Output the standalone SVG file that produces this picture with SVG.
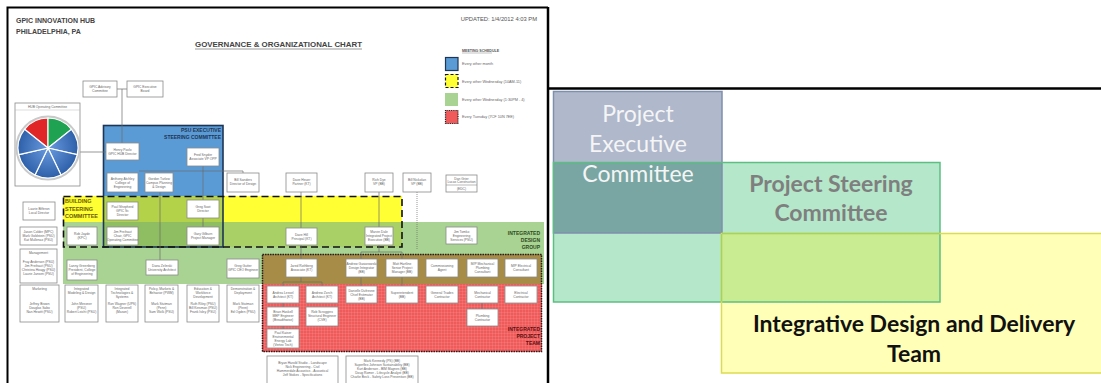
<svg xmlns="http://www.w3.org/2000/svg" width="1101" height="383" viewBox="0 0 1101 383">
  <defs>
    <style>
      .bx{fill:#fff;stroke:#8a8a8a;stroke-width:0.8}
      .t{font-family:"Liberation Sans",Arial,sans-serif;font-size:3.3px;fill:#666;text-anchor:middle}
      .hd{font-family:"Liberation Sans",Arial,sans-serif;font-weight:bold}
      .lg{font-family:"Liberation Sans",Arial,sans-serif;font-size:3.8px;fill:#666}
      .cn{stroke:#6a6a6a;stroke-width:0.7;fill:none}
      .big{font-family:Lato,"Open Sans",sans-serif;font-size:23px;text-anchor:middle}
    </style>
    <radialGradient id="pieBlue" cx="48" cy="148" r="31" gradientUnits="userSpaceOnUse">
      <stop offset="0" stop-color="#6a9be0"/>
      <stop offset="1" stop-color="#2c5ea8"/>
    </radialGradient>
    <pattern id="grid" width="3" height="3" patternUnits="userSpaceOnUse">
      <path d="M0,0.5H3M0.5,0V3" stroke="#ffffff" stroke-opacity="0.18" stroke-width="0.5"/>
    </pattern>
  </defs>

  <rect width="1101" height="383" fill="#fff"/>

  <!-- left sheet: governance chart -->
  <g id="sheet-frame">
    <path d="M7.5,383V7.5H548" fill="none" stroke="#000" stroke-width="2"/>
  </g>

  <g id="header">
    <text class="hd" x="16" y="22.5" font-size="7" fill="#444">GPIC INNOVATION HUB</text>
    <text class="hd" x="16" y="34" font-size="7" fill="#444">PHILADELPHIA, PA</text>
    <text x="537" y="20.5" font-family="Liberation Sans,Arial,sans-serif" font-size="5.8" fill="#555" text-anchor="end">UPDATED:  1/4/2012 4:03 PM</text>
    <text class="hd" x="195" y="47" font-size="6.6" fill="#444" textLength="167" lengthAdjust="spacingAndGlyphs">GOVERNANCE &amp; ORGANIZATIONAL CHART</text>
    <line x1="195" y1="49" x2="362" y2="49" stroke="#555" stroke-width="0.6"/>
  </g>

  <g id="legend">
    <text class="hd" x="462" y="52" font-size="3.6" fill="#555">MEETING SCHEDULE</text>
    <line x1="462" y1="53" x2="492" y2="53" stroke="#666" stroke-width="0.4"/>
    <rect x="445.5" y="57.5" width="12.5" height="13" fill="#5b9bd5" stroke="#1d3556" stroke-width="1.2"/>
    <text class="lg" x="462" y="65">Every other month</text>
    <rect x="445.5" y="74.5" width="12.5" height="13" fill="#ffff33" stroke="#111" stroke-width="1.2" stroke-dasharray="3,2"/>
    <text class="lg" x="462" y="82.5">Every other Wednesday (10AM-11)</text>
    <rect x="445" y="93" width="13" height="13" fill="#a9d392"/>
    <text class="lg" x="462" y="100.5">Every other Wednesday (1:30PM - 4)</text>
    <rect x="445.5" y="110.5" width="12.5" height="13" fill="#f15a5a" stroke="#222" stroke-width="1.2" stroke-dasharray="1,0.8"/>
    <text class="lg" x="462" y="118">Every Tuesday (7CF 10N 7EE)</text>
  </g>

  <!-- committee bands -->
  <g id="psu-executive-steering-committee">
    <rect x="103" y="125" width="120" height="122" fill="#5b9bd5"/>
  </g>
  <g id="building-steering-committee">
    <rect x="63" y="196" width="339" height="26" fill="#ffff33"/>
    <rect x="103" y="196" width="120" height="26" fill="#b3d24a"/>
  </g>
  <g id="integrated-design-group">
    <rect x="63" y="222" width="481" height="62" fill="#a9d392"/>
    <rect x="223" y="222" width="179" height="25" fill="#a8d066"/>
    <rect x="103" y="222" width="120" height="25" fill="#8fbd62"/>
  </g>
  <g id="integrated-project-team">
    <rect x="262" y="254" width="280" height="30" fill="#a68c46"/>
    <rect x="262" y="284" width="280" height="68" fill="#f15a5a"/>
    <rect x="262" y="284" width="280" height="68" fill="url(#grid)"/>
    <rect x="262.5" y="254.5" width="279" height="97" fill="none" stroke="#222" stroke-width="1.5" stroke-dasharray="1.5,1"/>
  </g>
  <g id="band-borders">
    <rect x="103.5" y="125.5" width="119.5" height="121.5" fill="none" stroke="#1d3556" stroke-width="1.6"/>
    <rect x="63.5" y="196.5" width="338.5" height="50.5" fill="none" stroke="#111" stroke-width="1.6" stroke-dasharray="7,4"/>
  </g>
  <g id="band-titles">
    <text class="hd" x="221" y="131.5" font-size="5" fill="#1d3556" text-anchor="end">PSU EXECUTIVE</text>
    <text class="hd" x="221" y="138.5" font-size="5" fill="#1d3556" text-anchor="end">STEERING COMMITTEE</text>
    <text class="hd" x="65" y="203" font-size="5.5" fill="#6b5a00">BUILDING</text>
    <text class="hd" x="65" y="210.5" font-size="5.5" fill="#6b5a00">STEERING</text>
    <text class="hd" x="65" y="218" font-size="5.5" fill="#6b5a00">COMMITTEE</text>
    <text class="hd" x="540" y="235" font-size="5" fill="#2f4a22" text-anchor="end">INTEGRATED</text>
    <text class="hd" x="540" y="242" font-size="5" fill="#2f4a22" text-anchor="end">DESIGN</text>
    <text class="hd" x="540" y="249" font-size="5" fill="#2f4a22" text-anchor="end">GROUP</text>
    <text class="hd" x="540" y="331" font-size="5" fill="#5a1010" text-anchor="end">INTEGRATED</text>
    <text class="hd" x="540" y="338" font-size="5" fill="#5a1010" text-anchor="end">PROJECT</text>
    <text class="hd" x="540" y="345" font-size="5" fill="#5a1010" text-anchor="end">TEAM</text>
  </g>

  <!-- connectors -->
  <g id="connectors">
    <path class="cn" d="M117,89H127M122,89V143"/>
    <path class="cn" d="M80,152H106"/>
    <path class="cn" d="M139,171H243V173"/>
    <path class="cn" d="M203,166V200M203,218V227"/>
    <path class="cn" d="M160,192V260"/>
    <path class="cn" d="M301,192V228M301,245V259M301,277V282M283,282H322M283,282V286M322,282V286"/>
    <path class="cn" d="M283,303V307M283,326V329"/>
    <path class="cn" d="M379,192V227M379,245V252H361V259M379,252H402V259"/>
    <path class="cn" d="M361,277V286M402,277V286M482,303V309"/>
    <path class="cn" d="M417,192V250" stroke-dasharray="1,1"/>
  </g>

  <!-- top boards -->
  <g id="gpic-advisory-committee"><rect class="bx" x="83" y="81" width="34" height="16"/><text class="t" x="100" y="88">GPIC Advisory</text><text class="t" x="100" y="92">Committee</text></g>
  <g id="gpic-executive-board"><rect class="bx" x="127" y="81" width="36" height="16"/><text class="t" x="145" y="88">GPIC Executive</text><text class="t" x="145" y="92">Board</text></g>

  <g id="hub-operating-committee">
    <rect class="bx" x="15" y="103" width="65" height="83"/>
    <line x1="15" y1="110" x2="80" y2="110" stroke="#bbb" stroke-width="0.5"/>
    <text class="t" x="47.5" y="108.2">HUB Operating Committee</text>
    <circle cx="48" cy="148" r="31.3" fill="#fff" stroke="#c9c9c9" stroke-width="2.4"/>
    <g stroke="#fff" stroke-width="1.2">
      <path d="M48,148L24.55,129.28A30,30 0 0 1 48,118Z" fill="#e02626"/>
      <path d="M48,148L48,118A30,30 0 0 1 71.45,129.28Z" fill="#1fa352"/>
      <path d="M48,148L71.45,129.28A30,30 0 0 1 77.24,154.7Z" fill="url(#pieBlue)"/>
      <path d="M48,148L77.24,154.7A30,30 0 0 1 61.01,175.03Z" fill="url(#pieBlue)"/>
      <path d="M48,148L61.01,175.03A30,30 0 0 1 34.99,175.03Z" fill="url(#pieBlue)"/>
      <path d="M48,148L34.99,175.03A30,30 0 0 1 18.76,154.7Z" fill="url(#pieBlue)"/>
      <path d="M48,148L18.76,154.7A30,30 0 0 1 24.55,129.28Z" fill="url(#pieBlue)"/>
    </g>
  </g>

  <!-- executive steering members -->
  <g id="henry-pavlo"><rect class="bx" x="106" y="143" width="33" height="17"/><text class="t" x="122.5" y="150.5">Henry Pavlo</text><text class="t" x="122.5" y="154.5">GPIC HUB Director</text></g>
  <g id="fred-snyder"><rect class="bx" x="187" y="148" width="32" height="18"/><text class="t" x="203" y="156">Fred Snyder</text><text class="t" x="203" y="160">Associate VP OPP</text></g>
  <g id="anthony-atchley"><rect class="bx" x="107" y="173" width="31" height="19"/><text class="t" x="122.5" y="179.5">Anthony Atchley</text><text class="t" x="122.5" y="183.5">College of</text><text class="t" x="122.5" y="187.5">Engineering</text></g>
  <g id="gordon-turlow"><rect class="bx" x="145" y="173" width="28" height="19"/><text class="t" x="159" y="179.5">Gordon Turlow</text><text class="t" x="159" y="183.5">Campus Planning</text><text class="t" x="159" y="187.5">&amp; Design</text></g>
  <g id="bill-sanders"><rect class="bx" x="227" y="173" width="32" height="19"/><text class="t" x="243" y="181">Bill Sanders</text><text class="t" x="243" y="185">Director of Design</text></g>
  <g id="dave-heuer"><rect class="bx" x="286" y="173" width="31" height="19"/><text class="t" x="301.5" y="181">Dave Heuer</text><text class="t" x="301.5" y="185">Partner (KT)</text></g>
  <g id="rich-dye"><rect class="bx" x="365" y="173" width="28" height="19"/><text class="t" x="379" y="181">Rich Dye</text><text class="t" x="379" y="185">VP (BB)</text></g>
  <g id="bill-nickolan"><rect class="bx" x="403" y="173" width="28" height="19"/><text class="t" x="417" y="181">Bill Nickolan</text><text class="t" x="417" y="185">VP (BB)</text></g>
  <g id="dan-grier"><rect class="bx" x="446" y="175" width="31" height="17"/><line x1="446" y1="185" x2="477" y2="185" stroke="#8a8a8a" stroke-width="0.6"/><text class="t" x="461.5" y="179.5">Dan Grier</text><text class="t" x="461.5" y="183.3">Lucas Construction</text><text class="t" x="461.5" y="189.5">(EDC)</text></g>

  <!-- building steering members -->
  <g id="laurie-bifferon"><rect class="bx" x="23" y="202" width="32" height="18"/><text class="t" x="39" y="210">Laurie Bifferon</text><text class="t" x="39" y="214">Local Director</text></g>
  <g id="paul-shepherd"><rect class="bx" x="107" y="202" width="31" height="18"/><text class="t" x="122.5" y="208">Paul Shepherd</text><text class="t" x="122.5" y="212">GPIC Sr.</text><text class="t" x="122.5" y="216">Director</text></g>
  <g id="greg-soot"><rect class="bx" x="187" y="200" width="32" height="18"/><text class="t" x="203" y="208">Greg Soot</text><text class="t" x="203" y="212">Director</text></g>

  <!-- design group members -->
  <g id="jason-colder"><rect class="bx" x="20" y="227" width="37" height="18"/><text class="t" x="38.5" y="232.5">Jason Colder (MPC)</text><text class="t" x="38.5" y="236.5">Mark Goldstein (PSU)</text><text class="t" x="38.5" y="240.5">Kat Mullenax (PSU)</text></g>
  <g id="rob-jayde"><rect class="bx" x="67" y="227" width="30" height="18"/><text class="t" x="82" y="235">Rob Jayde</text><text class="t" x="82" y="239">(KPC)</text></g>
  <g id="jim-freihaut"><rect class="bx" x="107" y="227" width="31" height="18"/><text class="t" x="122.5" y="233">Jim Freihaut</text><text class="t" x="122.5" y="237">Chair, GPIC</text><text class="t" x="122.5" y="241">Operating Committee</text></g>
  <g id="gary-gilburn"><rect class="bx" x="187" y="227" width="32" height="18"/><text class="t" x="203" y="235">Gary Gilburn</text><text class="t" x="203" y="239">Project Manager</text></g>
  <g id="dave-hill"><rect class="bx" x="286" y="228" width="31" height="17"/><text class="t" x="301.5" y="235.5">Dave Hill</text><text class="t" x="301.5" y="239.5">Principal (KT)</text></g>
  <g id="marvin-dale"><rect class="bx" x="365" y="227" width="28" height="18"/><text class="t" x="379" y="233">Marvin Dale</text><text class="t" x="379" y="237">Integrated Project</text><text class="t" x="379" y="241">Executive (BB)</text></g>
  <g id="jim-tomko"><rect class="bx" x="446" y="227" width="31" height="17"/><text class="t" x="461.5" y="232.5">Jim Tomko</text><text class="t" x="461.5" y="236.5">Engineering</text><text class="t" x="461.5" y="240.5">Services (PSU)</text></g>
  <g id="management"><rect class="bx" x="20" y="249" width="37" height="34"/><text class="t" x="38.5" y="254">Management</text><text class="t" x="38.5" y="263">Fray Anderson (PSU)</text><text class="t" x="38.5" y="267">Jim Freihaut (PSU)</text><text class="t" x="38.5" y="271">Christina Hoagy (PSU)</text><text class="t" x="38.5" y="275">Laurie Jansen (PSU)</text></g>
  <g id="lanny-greenberg"><rect class="bx" x="67" y="260" width="30" height="20"/><text class="t" x="82" y="266.5">Lanny Greenberg</text><text class="t" x="82" y="270.5">President, College</text><text class="t" x="82" y="274.5">of Engineering</text></g>
  <g id="dana-zelinski"><rect class="bx" x="146" y="260" width="32" height="15"/><text class="t" x="162" y="266.5">Dana Zelinski</text><text class="t" x="162" y="270.5">University Architect</text></g>
  <g id="greg-gutter"><rect class="bx" x="227" y="259" width="32" height="19"/><text class="t" x="243" y="267">Greg Gutter</text><text class="t" x="243" y="271">GPIC CEO Engineer</text></g>

  <!-- working groups -->
  <g id="marketing"><rect class="bx" x="20" y="285" width="39" height="37"/><text class="t" x="39.5" y="290">Marketing</text><text class="t" x="39.5" y="305">Jeffrey Brown</text><text class="t" x="39.5" y="309">Douglas Sabo</text><text class="t" x="39.5" y="313">Nan Hewitt (PSU)</text></g>
  <g id="integrated-modeling"><rect class="bx" x="65" y="285" width="33" height="37"/><text class="t" x="81.5" y="290">Integrated</text><text class="t" x="81.5" y="294">Modeling &amp; Design</text><text class="t" x="81.5" y="305">John Messner</text><text class="t" x="81.5" y="309">(PSU)</text><text class="t" x="81.5" y="313">Robert Leicht (PSU)</text></g>
  <g id="integrated-technologies"><rect class="bx" x="106" y="285" width="32" height="37"/><text class="t" x="122" y="290">Integrated</text><text class="t" x="122" y="294">Technologies &amp;</text><text class="t" x="122" y="298">Systems</text><text class="t" x="122" y="305">Ron Wagner (UPS)</text><text class="t" x="122" y="309">Ron Deverell</text><text class="t" x="122" y="313">(Mason)</text></g>
  <g id="policy-markets"><rect class="bx" x="145" y="285" width="33" height="37"/><text class="t" x="161.5" y="290">Policy, Markets &amp;</text><text class="t" x="161.5" y="294">Behavior (PWM)</text><text class="t" x="161.5" y="305">Mark Stutman</text><text class="t" x="161.5" y="309">(Penn)</text><text class="t" x="161.5" y="313">Sam Wolk (PSU)</text></g>
  <g id="education-workforce"><rect class="bx" x="187" y="285" width="32" height="37"/><text class="t" x="203" y="290">Education &amp;</text><text class="t" x="203" y="294">Workforce</text><text class="t" x="203" y="298">Development</text><text class="t" x="203" y="305">Ruth Riley (PSU)</text><text class="t" x="203" y="309">Bill Kinsman (PSU)</text><text class="t" x="203" y="313">Frank Isley (PSU)</text></g>
  <g id="demonstration-deployment"><rect class="bx" x="227" y="285" width="32" height="37"/><text class="t" x="243" y="290">Demonstration &amp;</text><text class="t" x="243" y="294">Deployment</text><text class="t" x="243" y="305">Mark Stutman</text><text class="t" x="243" y="309">(Penn)</text><text class="t" x="243" y="313">Ed Ogden (PSU)</text></g>

  <!-- project team members -->
  <g id="jared-rothberg"><rect class="bx" x="286" y="259" width="31" height="18"/><text class="t" x="301.5" y="267">Jared Rothberg</text><text class="t" x="301.5" y="271">Associate (KT)</text></g>
  <g id="andrew-gasiorowski"><rect class="bx" x="346" y="259" width="31" height="18"/><text class="t" x="361.5" y="265">Andrew Gasiorowski</text><text class="t" x="361.5" y="269">Design Integrator</text><text class="t" x="361.5" y="273">(BB)</text></g>
  <g id="matt-hartline"><rect class="bx" x="386" y="259" width="32" height="18"/><text class="t" x="402" y="265">Matt Hartline</text><text class="t" x="402" y="269">Senior Project</text><text class="t" x="402" y="273">Manager (BB)</text></g>
  <g id="commissioning-agent"><rect class="bx" x="426" y="259" width="32" height="18"/><text class="t" x="442" y="267">Commissioning</text><text class="t" x="442" y="271">Agent</text></g>
  <g id="mp-mechanical"><rect class="bx" x="467" y="259" width="31" height="18"/><text class="t" x="482.5" y="265">M/P Mechanical</text><text class="t" x="482.5" y="269">Plumbing</text><text class="t" x="482.5" y="273">Consultant</text></g>
  <g id="mp-electrical"><rect class="bx" x="505" y="259" width="32" height="18"/><text class="t" x="521" y="267">M/P Electrical</text><text class="t" x="521" y="271">Consultant</text></g>
  <g id="andrea-lessel"><rect class="bx" x="267" y="286" width="32" height="17"/><text class="t" x="283" y="293.5">Andrea Lessel</text><text class="t" x="283" y="297.5">Architect (KT)</text></g>
  <g id="andrew-zorch"><rect class="bx" x="306" y="286" width="32" height="17"/><text class="t" x="322" y="293.5">Andrew Zorch</text><text class="t" x="322" y="297.5">Architect (KT)</text></g>
  <g id="danielle-dufresne"><rect class="bx" x="346" y="286" width="31" height="17"/><text class="t" x="361.5" y="291.5">Danielle Dufresne</text><text class="t" x="361.5" y="295.5">Chief Estimator</text><text class="t" x="361.5" y="299.5">(BB)</text></g>
  <g id="superintendent"><rect class="bx" x="386" y="286" width="32" height="17"/><text class="t" x="402" y="293.5">Superintendent</text><text class="t" x="402" y="297.5">(BB)</text></g>
  <g id="general-trades"><rect class="bx" x="426" y="286" width="32" height="17"/><text class="t" x="442" y="293.5">General Trades</text><text class="t" x="442" y="297.5">Contractor</text></g>
  <g id="mechanical-contractor"><rect class="bx" x="467" y="286" width="31" height="17"/><text class="t" x="482.5" y="293.5">Mechanical</text><text class="t" x="482.5" y="297.5">Contractor</text></g>
  <g id="electrical-contractor"><rect class="bx" x="505" y="286" width="32" height="17"/><text class="t" x="521" y="293.5">Electrical</text><text class="t" x="521" y="297.5">Contractor</text></g>
  <g id="brian-haskell"><rect class="bx" x="267" y="307" width="32" height="19"/><text class="t" x="283" y="313">Brian Haskell</text><text class="t" x="283" y="317">MEP Engineer</text><text class="t" x="283" y="321">(Breadthwise)</text></g>
  <g id="rob-scroggins"><rect class="bx" x="306" y="307" width="32" height="19"/><text class="t" x="322" y="313">Rob Scroggins</text><text class="t" x="322" y="317">Structural Engineer</text><text class="t" x="322" y="321">(CVE)</text></g>
  <g id="plumbing-contractor"><rect class="bx" x="467" y="309" width="31" height="17"/><text class="t" x="482.5" y="316.5">Plumbing</text><text class="t" x="482.5" y="320.5">Contractor</text></g>
  <g id="paul-kaiser"><rect class="bx" x="267" y="329" width="32" height="19"/><text class="t" x="283" y="333.5">Paul Kaiser</text><text class="t" x="283" y="337.5">Environmental</text><text class="t" x="283" y="341.5">Energy Lab</text><text class="t" x="283" y="345.5">(Vertex Tech)</text></g>
  <g id="consultants"><rect class="bx" x="267" y="356" width="71" height="28"/><text class="t" x="302.5" y="364">Bryan Harold Studio - Landscape</text><text class="t" x="302.5" y="368">Nick Engineering - Civil</text><text class="t" x="302.5" y="372">Hammerdale Acoustics - Acoustical</text><text class="t" x="302.5" y="376">Jeff Stokes - Specifications</text></g>
  <g id="builder-support"><rect class="bx" x="346" y="356" width="72" height="28"/><text class="t" x="382" y="362">Mark Kennedy (PS) (BB)</text><text class="t" x="382" y="366">Superflex Johnson Sustainability (BB)</text><text class="t" x="382" y="370">Kurt Anderson - BIM Magnes (BB)</text><text class="t" x="382" y="374">Doug Romer - Lifecycle Analyst (BB)</text><text class="t" x="382" y="378">Charlie Beck - Safety Loss Prevention (BB)</text></g>

  <!-- right sheet: overlapping committees -->
  <g id="panel-frame">
    <path d="M548,7V383M548,88.5H1101" fill="none" stroke="#000" stroke-width="2.5"/>
  </g>
  <g id="project-executive-committee">
    <rect x="553" y="91" width="169" height="142" fill="#b0b8cc"/>
  </g>
  <g id="project-steering-committee">
    <rect x="553" y="162" width="387" height="140" fill="#b5e7ca"/>
    <rect x="553" y="162" width="169" height="71" fill="#79a6a3"/>
  </g>
  <g id="integrative-design-delivery-team">
    <rect x="721" y="233" width="382" height="140" fill="#ffffb8"/>
    <rect x="721" y="233" width="219" height="69" fill="#c9ec93"/>
  </g>
  <g id="panel-borders" fill="none" stroke-width="1.5">
    <rect x="553.5" y="91.5" width="168.5" height="141.5" stroke="#7f8fae"/>
    <rect x="553.5" y="162.5" width="386.5" height="139.5" stroke="#5cbf82"/>
    <rect x="721.5" y="233.5" width="381" height="139.5" stroke="#dcdc50"/>
    <line x1="722" y1="233.5" x2="939.5" y2="233.5" stroke="#a4d45c"/>
    <line x1="721.5" y1="234" x2="721.5" y2="301.5" stroke="#a4d45c"/>
  </g>
  <g id="panel-labels">
    <text class="big" x="638" y="122" fill="#f5f5f5">Project</text>
    <text class="big" x="638" y="152" fill="#f5f5f5">Executive</text>
    <text class="big" x="638" y="182" fill="#f5f5f5">Committee</text>
    <text class="big" x="831" y="192" fill="#7f7f7f" font-weight="bold">Project Steering</text>
    <text class="big" x="831" y="221" fill="#7f7f7f" font-weight="bold">Committee</text>
    <text class="big" x="914" y="332" fill="#111" font-weight="bold">Integrative Design and Delivery</text>
    <text class="big" x="914" y="362" fill="#111" font-weight="bold">Team</text>
  </g>
</svg>
